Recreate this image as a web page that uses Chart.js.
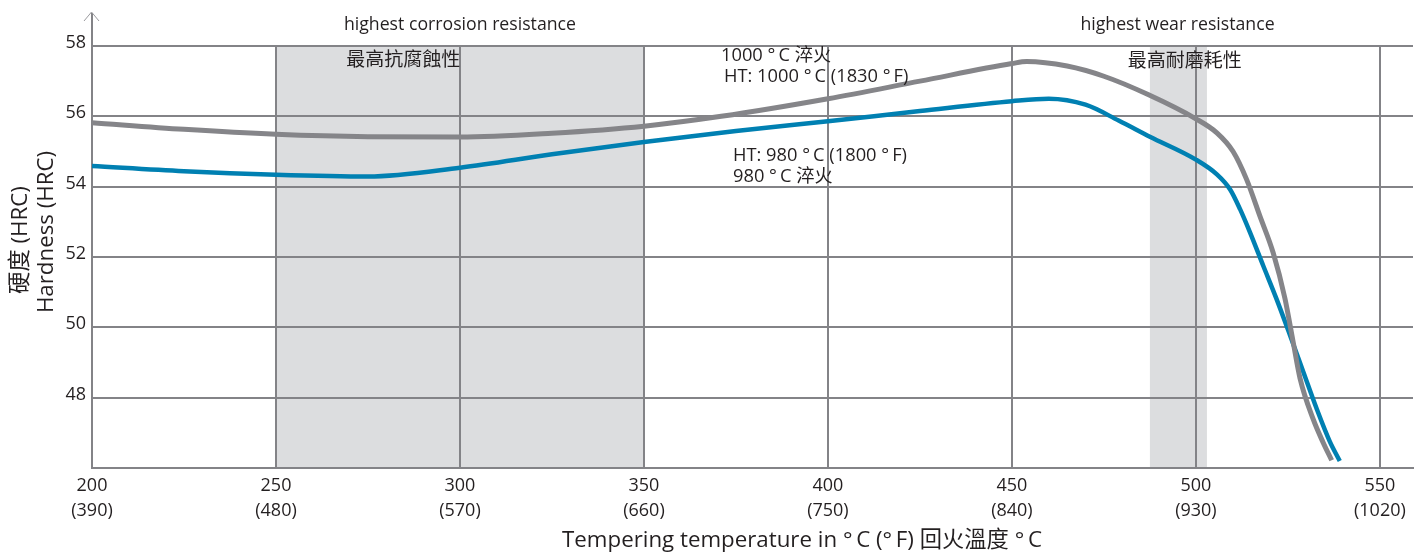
<!DOCTYPE html>
<html>
<head>
<meta charset="utf-8">
<script src="https://cdn.jsdelivr.net/npm/chart.js@4/dist/chart.umd.min.js"></script>
<style>
  html, body { margin: 0; padding: 0; background: #fff; }
  #wrap { width: 1424px; height: 555px; }
</style>
</head>
<body>
<div id="wrap"><canvas id="chart"></canvas></div>
<script>
// tempering temperature (°C) and hardness (HRC)
const temp1000 = [200, 225, 250, 275, 300, 325, 350, 371, 400, 425, 450, 454, 465, 475, 487, 500, 505.7, 510.1, 513.8, 517.4, 521, 524.2, 526.4, 528.3, 531.9, 534.6, 536.9];
const hrc1000  = [55.82, 55.63, 55.49, 55.42, 55.41, 55.52, 55.72, 56.0, 56.5, 57.0, 57.5, 57.56, 57.43, 57.14, 56.62, 55.93, 55.53, 55.0, 54.2, 53.16, 52.12, 50.82, 49.6, 48.55, 47.38, 46.72, 46.22];

const temp980 = [200, 225, 250, 275, 300, 325, 350, 375, 400, 425, 450, 460, 470, 479, 487.5, 500, 505.7, 509.3, 512, 514.7, 518.3, 521.9, 525.6, 529.2, 532.8, 536.4, 539.1];
const hrc980  = [54.59, 54.44, 54.34, 54.29, 54.54, 54.92, 55.27, 55.58, 55.86, 56.15, 56.43, 56.5, 56.33, 55.88, 55.42, 54.77, 54.35, 53.92, 53.36, 52.7, 51.75, 50.81, 49.77, 48.73, 47.69, 46.75, 46.2];

const xTicksC = [200, 250, 300, 350, 400, 450, 500, 550];
const xTicksF = ['(390)', '(480)', '(570)', '(660)', '(750)', '(840)', '(930)', '(1020)'];
const yTicks = [46, 48, 50, 52, 54, 56, 58];

// shaded bands (°C)
const corrosionBand = [250, 350];
const wearBand = [487.5, 503];

const FONT = "'Open Sans', 'Noto Sans CJK TC', sans-serif";
const TEXT = '#231f20';
const GRID = '#838387';
const DEG = '°\u2009';

const toPoints = (xs, ys) => xs.map((x, i) => ({ x, y: ys[i] }));

const decor = {
  id: 'decor',
  beforeDraw(chart) {
    const { ctx, chartArea: a, scales: { x } } = chart;
    ctx.save();
    ctx.fillStyle = '#dcdddf';
    [corrosionBand, wearBand].forEach(([s, e]) => {
      const x0 = x.getPixelForValue(s), x1 = x.getPixelForValue(e);
      ctx.fillRect(x0, a.top, x1 - x0, a.bottom - a.top);
    });
    ctx.restore();
  },
  afterDraw(chart) {
    const { ctx, chartArea: a, scales: { x } } = chart;
    ctx.save();
    // y axis arrow above 58
    ctx.strokeStyle = GRID;
    ctx.lineWidth = 2;
    ctx.beginPath();
    ctx.moveTo(a.left, a.top);
    ctx.lineTo(a.left, 13);
    ctx.stroke();
    ctx.strokeStyle = '#9a9a9e';
    ctx.lineWidth = 1;
    ctx.beginPath();
    ctx.moveTo(a.left - 8, 21);
    ctx.lineTo(a.left - 0.5, 12);
    ctx.lineTo(a.left + 7, 21);
    ctx.stroke();

    ctx.fillStyle = TEXT;
    ctx.textBaseline = 'middle';
    ctx.font = '17.7px ' + FONT;
    ctx.textAlign = 'center';
    ctx.fillText('highest corrosion resistance', x.getPixelForValue(300), 25);
    ctx.fillText('highest wear resistance', x.getPixelForValue(495), 25);
    ctx.font = '19px ' + FONT;
    ctx.fillText('最高抗腐蝕性', x.getPixelForValue(284.6), 61);
    ctx.fillText('最高耐磨耗性', x.getPixelForValue(497), 62);

    ctx.font = '18.3px ' + FONT;
    ctx.textAlign = 'left';
    ctx.fillText('1000 ' + DEG + 'C 淬火', 721, 56);
    ctx.fillText('HT: 1000 ' + DEG + 'C (1830 ' + DEG + 'F)', 724, 77);
    ctx.fillText('HT: 980 ' + DEG + 'C (1800 ' + DEG + 'F)', 733, 156);
    ctx.fillText('980 ' + DEG + 'C 淬火', 733, 177);

    // axis titles
    ctx.font = '22.3px ' + FONT;
    ctx.textAlign = 'center';
    ctx.fillText('Tempering temperature in ' + DEG + 'C (' + DEG + 'F) 回火溫度 ' + DEG + 'C', 802, 541);
    ctx.save();
    ctx.translate(21, 240);
    ctx.rotate(-Math.PI / 2);
    ctx.fillText('硬度 (HRC)', 0, 0);
    ctx.restore();
    ctx.save();
    ctx.translate(47, 232);
    ctx.rotate(-Math.PI / 2);
    ctx.fillText('Hardness (HRC)', 0, 0);
    ctx.restore();
    ctx.restore();
  }
};

new Chart(document.getElementById('chart'), {
  type: 'line',
  data: {
    datasets: [
      { label: 'HT: 1000 °C (1830 °F)', data: toPoints(temp1000, hrc1000), borderColor: '#858589', borderWidth: 5 },
      { label: 'HT: 980 °C (1800 °F)', data: toPoints(temp980, hrc980), borderColor: '#0080b2', borderWidth: 4.5 }
    ]
  },
  options: {
    responsive: true,
    maintainAspectRatio: false,
    animation: false,
    layout: { padding: { top: 46, right: 11, left: 0, bottom: 0 } },
    elements: { point: { radius: 0 }, line: { cubicInterpolationMode: 'monotone', borderCapStyle: 'butt' } },
    plugins: { legend: { display: false }, tooltip: { enabled: false } },
    scales: {
      x: {
        type: 'linear',
        min: 200,
        max: 559,
        afterFit: (s) => { s.height = 87; },
        afterBuildTicks: (s) => { s.ticks = xTicksC.map(v => ({ value: v })); },
        grid: { color: GRID, lineWidth: 2, drawTicks: false },
        border: { color: GRID, width: 2 },
        ticks: {
          padding: 6,
          color: TEXT,
          maxRotation: 0,
          font: { family: FONT, size: 18, lineHeight: 1.35 },
          callback: (v) => [String(v), xTicksF[xTicksC.indexOf(v)]]
        }
      },
      y: {
        min: 46,
        max: 58,
        afterFit: (s) => { s.width = 92; },
        afterBuildTicks: (s) => { s.ticks = yTicks.map(v => ({ value: v })); },
        grid: { color: GRID, lineWidth: 2, drawTicks: false },
        border: { color: GRID, width: 2 },
        ticks: {
          padding: 6,
          labelOffset: -3,
          color: TEXT,
          font: { family: FONT, size: 18 },
          callback: (v) => (v === 46 ? '' : String(v))
        }
      }
    }
  },
  plugins: [decor]
});
</script>
</body>
</html>
